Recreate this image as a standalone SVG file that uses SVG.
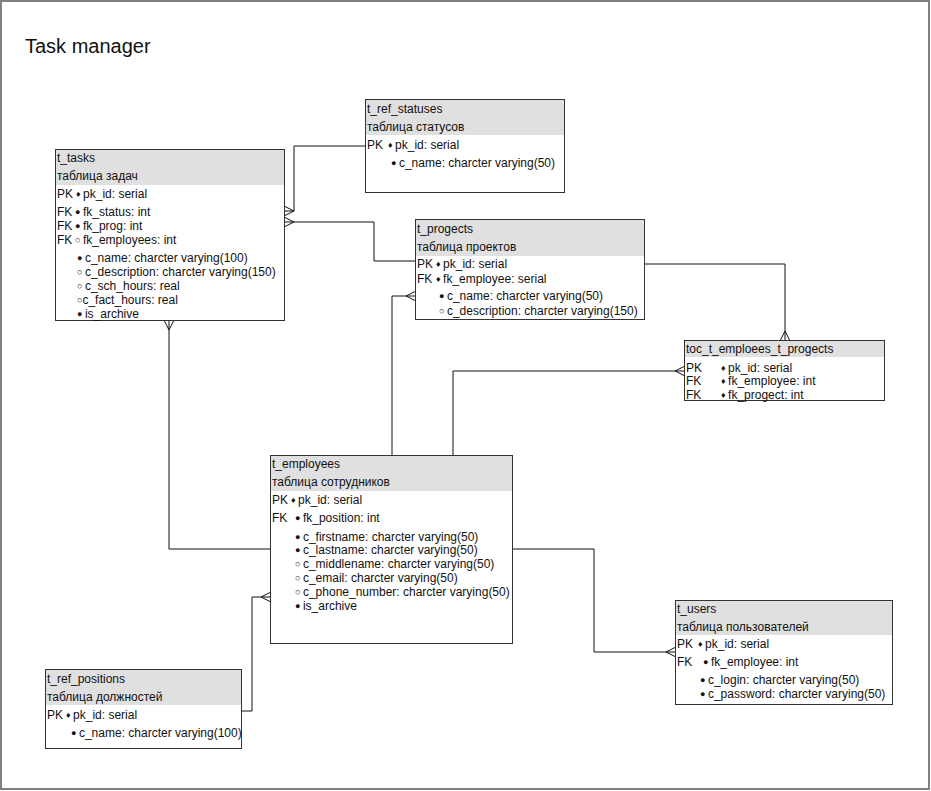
<svg xmlns="http://www.w3.org/2000/svg" width="931" height="791" viewBox="0 0 931 791">
<style>
.box{fill:none;stroke:#333;stroke-width:1}
.hdr{fill:#e0e0e0;stroke:none}
.bg{fill:#fff;stroke:none}
text{font-family:"Liberation Sans",Arial,sans-serif;font-size:12px;fill:#111}
.title{font-size:20px}
.m{font-size:9px}
.b{font-size:9px}
.conn{fill:none;stroke:#111;stroke-width:1}
</style>
<rect x="0" y="0" width="931" height="791" fill="#fff"/>
<rect x="1" y="1" width="928" height="788" fill="none" stroke="#808080" stroke-width="2"/>
<text class="title" x="25" y="53">Task manager</text>

<g id="connectors">
<path class="conn" d="M285,211 H294 V146 H365"/>
<path class="conn" d="M285,206.5 L294,211 L285,215.5"/>
<path class="conn" d="M285,222 H374 V261 H415"/>
<path class="conn" d="M285,217.5 L294,222 L285,226.5"/>
<path class="conn" d="M169,321 V549 H270"/>
<path class="conn" d="M164.5,321 L169,330 L173.5,321"/>
<path class="conn" d="M392,455 V296 H415"/>
<path class="conn" d="M415,291.5 L406,296 L415,300.5"/>
<path class="conn" d="M453,455 V371 H684"/>
<path class="conn" d="M684,366.5 L675,371 L684,375.5"/>
<path class="conn" d="M645,264 H785 V340"/>
<path class="conn" d="M780.5,340 L785,331 L789.5,340"/>
<path class="conn" d="M513,549 H594 V652 H675"/>
<path class="conn" d="M675,647.5 L666,652 L675,656.5"/>
<path class="conn" d="M242,711 H252 V597 H270"/>
<path class="conn" d="M270,592.5 L261,597 L270,601.5"/>
</g>

<g id="t_tasks">
<rect class="bg" x="55" y="149" width="230" height="172"/>
<rect class="hdr" x="55" y="149" width="230" height="36"/>
<rect class="box" x="55.5" y="149.5" width="229" height="171"/>
<text x="57" y="162">t_tasks</text>
<text x="57" y="180">таблица задач</text>
<text x="57" y="198">PK</text><text x="76" y="198"><tspan class="m" dy="-1">♦ </tspan><tspan dy="1">pk_id: serial</tspan></text>
<text x="57" y="216">FK</text><text x="75" y="216"><tspan class="b" dy="-1.5">● </tspan><tspan dy="1.5">fk_status: int</tspan></text>
<text x="57" y="230">FK</text><text x="75" y="230"><tspan class="b" dy="-1.5">● </tspan><tspan dy="1.5">fk_prog: int</tspan></text>
<text x="57" y="244">FK</text><text x="75" y="244"><tspan class="b" dy="-1.5">○ </tspan><tspan dy="1.5">fk_employees: int</tspan></text>
<text x="77" y="262"><tspan class="b" dy="-1.5">● </tspan><tspan dy="1.5">c_name: charcter varying(100)</tspan></text>
<text x="77" y="276"><tspan class="b" dy="-1.5">○ </tspan><tspan dy="1.5">c_description: charcter varying(150)</tspan></text>
<text x="77" y="290"><tspan class="b" dy="-1.5">○ </tspan><tspan dy="1.5">c_sch_hours: real</tspan></text>
<text x="77" y="304"><tspan class="b" dy="-1.5">○</tspan><tspan dy="1.5">c_fact_hours: real</tspan></text>
<text x="77" y="318"><tspan class="b" dy="-1.5">● </tspan><tspan dy="1.5">is_archive</tspan></text>
</g>

<g id="t_ref_statuses">
<rect class="bg" x="365" y="99" width="200" height="94"/>
<rect class="hdr" x="365" y="99" width="200" height="36"/>
<rect class="box" x="365.5" y="99.5" width="199" height="93"/>
<text x="367" y="113">t_ref_statuses</text>
<text x="367" y="131">таблица статусов</text>
<text x="367" y="149">PK</text><text x="388" y="149"><tspan class="m" dy="-1">♦ </tspan><tspan dy="1">pk_id: serial</tspan></text>
<text x="391" y="167"><tspan class="b" dy="-1.5">● </tspan><tspan dy="1.5">c_name: charcter varying(50)</tspan></text>
</g>

<g id="t_progects">
<rect class="bg" x="415" y="219" width="230" height="101"/>
<rect class="hdr" x="415" y="219" width="230" height="37"/>
<rect class="box" x="415.5" y="219.5" width="229" height="100"/>
<text x="417" y="233">t_progects</text>
<text x="417" y="251">таблица проектов</text>
<text x="417" y="268">PK</text><text x="436" y="268"><tspan class="m" dy="-1">♦ </tspan><tspan dy="1">pk_id: serial</tspan></text>
<text x="417" y="283">FK</text><text x="436" y="283"><tspan class="m" dy="-1">♦ </tspan><tspan dy="1">fk_employee: serial</tspan></text>
<text x="439" y="300"><tspan class="b" dy="-1.5">● </tspan><tspan dy="1.5">c_name: charcter varying(50)</tspan></text>
<text x="439" y="315"><tspan class="b" dy="-1.5">○ </tspan><tspan dy="1.5">c_description: charcter varying(150)</tspan></text>
</g>

<g id="toc_t_emploees_t_progects">
<rect class="bg" x="684" y="340" width="201" height="61"/>
<rect class="hdr" x="684" y="340" width="201" height="17"/>
<rect class="box" x="684.5" y="340.5" width="200" height="60"/>
<text x="686" y="353">toc_t_emploees_t_progects</text>
<text x="686" y="372">PK</text><text x="721" y="372"><tspan class="m" dy="-1">♦ </tspan><tspan dy="1">pk_id: serial</tspan></text>
<text x="686" y="385">FK</text><text x="721" y="385"><tspan class="m" dy="-1">♦ </tspan><tspan dy="1">fk_employee: int</tspan></text>
<text x="686" y="399">FK</text><text x="721" y="399"><tspan class="m" dy="-1">♦ </tspan><tspan dy="1">fk_progect: int</tspan></text>
</g>

<g id="t_employees">
<rect class="bg" x="270" y="455" width="243" height="189"/>
<rect class="hdr" x="270" y="455" width="243" height="36"/>
<rect class="box" x="270.5" y="455.5" width="242" height="188"/>
<text x="272" y="468">t_employees</text>
<text x="272" y="486">таблица сотрудников</text>
<text x="272" y="504">PK</text><text x="291" y="504"><tspan class="m" dy="-1">♦ </tspan><tspan dy="1">pk_id: serial</tspan></text>
<text x="272" y="522">FK</text><text x="295" y="522"><tspan class="b" dy="-1.5">● </tspan><tspan dy="1.5">fk_position: int</tspan></text>
<text x="295" y="541"><tspan class="b" dy="-1.5">● </tspan><tspan dy="1.5">c_firstname: charcter varying(50)</tspan></text>
<text x="295" y="554"><tspan class="b" dy="-1.5">● </tspan><tspan dy="1.5">c_lastname: charcter varying(50)</tspan></text>
<text x="295" y="568"><tspan class="b" dy="-1.5">○ </tspan><tspan dy="1.5">c_middlename: charcter varying(50)</tspan></text>
<text x="295" y="582"><tspan class="b" dy="-1.5">○ </tspan><tspan dy="1.5">c_email: charcter varying(50)</tspan></text>
<text x="295" y="596"><tspan class="b" dy="-1.5">○ </tspan><tspan dy="1.5">c_phone_number: charcter varying(50)</tspan></text>
<text x="295" y="610"><tspan class="b" dy="-1.5">● </tspan><tspan dy="1.5">is_archive</tspan></text>
</g>

<g id="t_users">
<rect class="bg" x="675" y="600" width="218" height="105"/>
<rect class="hdr" x="675" y="600" width="218" height="35"/>
<rect class="box" x="675.5" y="600.5" width="217" height="104"/>
<text x="677" y="613">t_users</text>
<text x="677" y="631">таблица пользователей</text>
<text x="677" y="648">PK</text><text x="698" y="648"><tspan class="m" dy="-1">♦ </tspan><tspan dy="1">pk_id: serial</tspan></text>
<text x="677" y="666">FK</text><text x="703" y="666"><tspan class="b" dy="-1.5">● </tspan><tspan dy="1.5">fk_employee: int</tspan></text>
<text x="700" y="684"><tspan class="b" dy="-1.5">● </tspan><tspan dy="1.5">c_login: charcter varying(50)</tspan></text>
<text x="700" y="698"><tspan class="b" dy="-1.5">● </tspan><tspan dy="1.5">c_password: charcter varying(50)</tspan></text>
</g>

<g id="t_ref_positions">
<rect class="bg" x="45" y="669" width="197" height="80"/>
<rect class="hdr" x="45" y="669" width="197" height="36"/>
<rect class="box" x="45.5" y="669.5" width="196" height="79"/>
<text x="47" y="683">t_ref_positions</text>
<text x="47" y="701">таблица должностей</text>
<text x="47" y="719">PK</text><text x="66" y="719"><tspan class="m" dy="-1">♦ </tspan><tspan dy="1">pk_id: serial</tspan></text>
<text x="71" y="737"><tspan class="b" dy="-1.5">● </tspan><tspan dy="1.5">c_name: charcter varying(100)</tspan></text>
</g>
</svg>
